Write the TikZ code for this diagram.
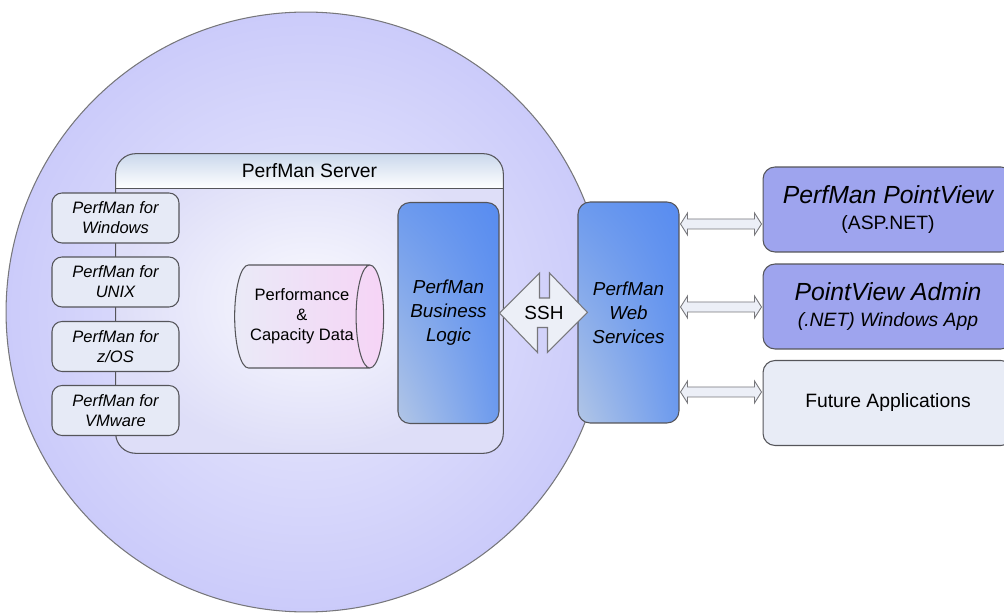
\documentclass[tikz,border=0pt]{standalone}
\usepackage{fontspec}
\setmainfont{Liberation Sans}
\usetikzlibrary{shapes.geometric, shadings, calc}

\definecolor{edgegray}{RGB}{85, 85, 90}
\definecolor{hostouter}{RGB}{203, 203, 250}
\definecolor{hostinner}{RGB}{236, 236, 252}
\definecolor{serverouter}{RGB}{222, 222, 248}
\definecolor{serverinner}{RGB}{250, 250, 254}
\definecolor{headerblue}{RGB}{202, 216, 236}
\definecolor{modulefill}{RGB}{230, 234, 246}
\definecolor{storeleft}{RGB}{234, 234, 247}
\definecolor{storeright}{RGB}{246, 212, 246}
\definecolor{bluedark}{RGB}{88, 140, 240}
\definecolor{bluemid}{RGB}{108, 154, 238}
\definecolor{bluelight}{RGB}{178, 198, 230}
\definecolor{appblue}{RGB}{158, 164, 238}
\definecolor{appgray}{RGB}{232, 236, 246}
\definecolor{linkfill}{RGB}{236, 239, 247}

\tikzset{
	host/.style = {circle, draw = edgegray!80, line width = 0.6pt, minimum size = 12cm, inner sep = 0pt,
		inner color = hostinner, outer color = hostouter},
	server/.style = {rectangle, rounded corners = 0.4cm, minimum width = 7.74cm, minimum height = 5.98cm,
		inner sep = 0pt, inner color = serverinner, outer color = serverouter},
	module/.style = {rectangle, draw = edgegray, fill = modulefill, line width = 0.6pt, rounded corners = 0.2cm,
		minimum width = 2.54cm, minimum height = 1cm, inner sep = 0pt, align = center,
		font = \fontsize{9.4}{11.3}\selectfont\itshape},
	store/.style = {cylinder, draw = edgegray, line width = 0.6pt, aspect = 0.5,
		minimum width = 2.06cm, minimum height = 2.98cm, inner sep = 0pt, align = center,
		left color = storeleft, right color = storeright, font = \fontsize{9.4}{11.3}\selectfont},
	bluebox/.style = {rectangle, draw = edgegray, line width = 0.6pt, rounded corners = 0.24cm,
		minimum width = 2.02cm, minimum height = 4.42cm, inner sep = 0pt, align = center,
		upper right = bluedark, upper left = bluemid, lower right = bluemid, lower left = bluelight,
		font = \fontsize{10.7}{13.6}\selectfont\itshape},
	app/.style = {rectangle, draw = edgegray, line width = 0.6pt, rounded corners = 0.24cm,
		minimum width = 5cm, minimum height = 1.7cm, inner sep = 0pt, align = center,
		font = \fontsize{11}{13}\selectfont},
	sshlink/.style = {draw = edgegray!80, fill = linkfill, line width = 0.6pt, line join = miter},
	applink/.style = {draw = edgegray!80, fill = linkfill, line width = 0.5pt}
}

\begin{document}
\begin{tikzpicture}[x = 0.02cm, y = -0.02cm, > = latex]

	% Frame

	\useasboundingbox (0, 0) rectangle (1004, 614);
	\clip (0, 0) rectangle (1004, 614);

	% Host circle

	\node [host] (host) at (306, 312) {};

	% Server box and title bar

	\node [server] (server) at (309.5, 303.5) {};
	\begin{scope}
		\clip [rounded corners = 0.4cm] (server.north west) rectangle (server.south east);
		\shade [top color = headerblue, bottom color = white] (server.north west) rectangle ($(server.north east) + (0, 35)$);
	\end{scope}
	\draw [edgegray, line width = 0.6pt] ($(server.north west) + (0, 35)$) -- ($(server.north east) + (0, 35)$);
	\draw [edgegray, line width = 0.6pt, rounded corners = 0.4cm] (server.north west) rectangle (server.south east);
	\node [font = \fontsize{11}{13}\selectfont] (title) at ($(server.north) + (0, 17)$) {PerfMan Server};

	% Collectors

	\foreach \y/\name/\os in {218/win/Windows, 282/unix/UNIX, 346.5/zos/{z/OS}, 410.5/vm/VMware}
		\node [module] (\name) at (115.5, \y) {PerfMan for\\\os};

	\draw [edgegray, line width = 0.6pt] (win) -- (unix);
	\draw [edgegray, line width = 0.6pt] (unix) -- (zos);
	\draw [edgegray, line width = 0.6pt] (zos) -- (vm);

	% Data store

	\node [store] (data) at (302, 316.5) {Performance\\\&\\Capacity Data};

	% Business logic and web services

	\node [bluebox] (logic) at (448.5, 313) {PerfMan\\Business\\Logic};
	\node [bluebox] (web) at (628.5, 312.5) {PerfMan\\Web\\Services};

	% SSH link

	\draw [sshlink] (logic.east) -- ++(40, -40) -- ++(0, 25) -- ++(10, 0) -- ++(0, -25)
		-- ($(web.west) + (10, 0)$) -- ++(-40, 40) -- ++(0, -25) -- ++(-10, 0) -- ++(0, 25) -- cycle;
	\node [font = \fontsize{10.8}{13}\selectfont] (ssh) at (544, 313) {SSH};

	% Applications

	\node [app, fill = appblue] (pointview) at (888, 209.5)
		{{\fontsize{14.1}{16}\selectfont\itshape PerfMan PointView}\\[2pt](ASP.NET)};
	\node [app, fill = appblue] (admin) at (888, 306.5)
		{{\fontsize{14.1}{16}\selectfont\itshape PointView Admin}\\[2pt]\itshape (.NET) Windows App};
	\node [app, fill = appgray] (future) at (888, 403) {Future Applications};

	% Links to applications

	\coordinate (row1) at (0, 224);
	\coordinate (row2) at (0, 307);
	\coordinate (row3) at (0, 392);

	\foreach \app/\row in {pointview/row1, admin/row2, future/row3}
		\draw [applink] let \p1 = (web.east |- \row), \p2 = (\app.west |- \row) in
			($(\p1) + (1, 0)$) -- ++(7, -11) -- ++(0, 6) -- ($(\p2) + (-8, -5)$) -- ++(0, -6) -- ($(\p2) + (-1, 0)$)
			-- ++(-7, 11) -- ++(0, -6) -- ($(\p1) + (8, 5)$) -- ++(0, 6) -- cycle;

\end{tikzpicture}
\end{document}
